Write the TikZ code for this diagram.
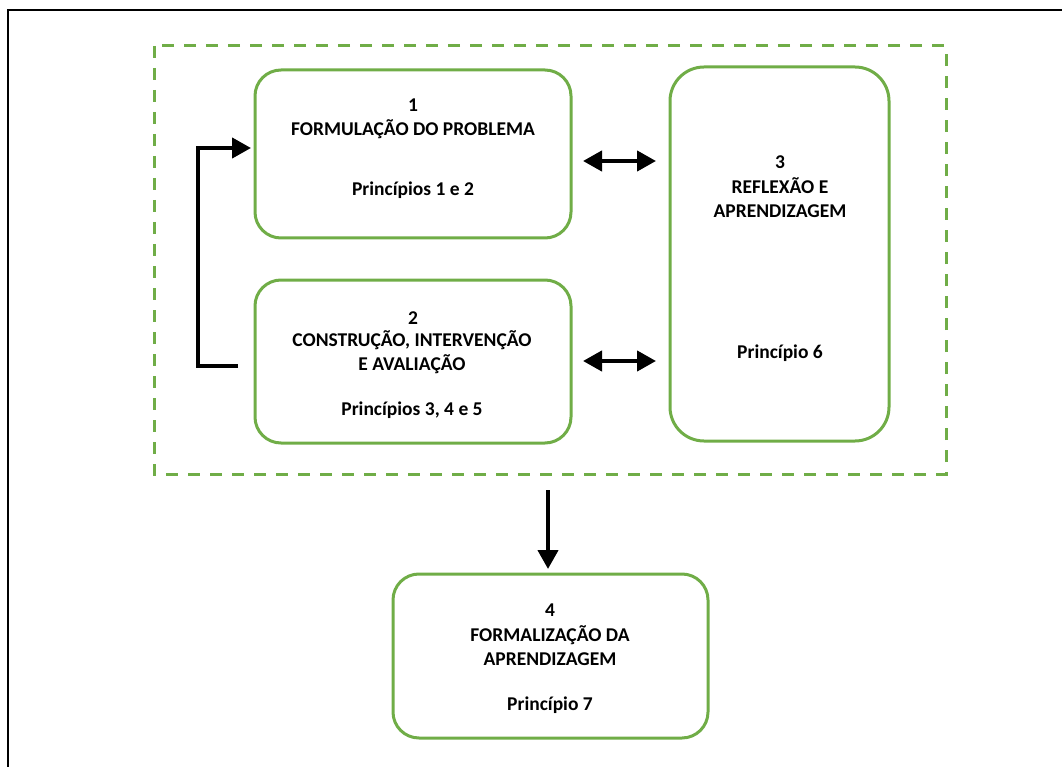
\documentclass[tikz,border=0pt]{standalone}
\usepackage{fontspec}
\setmainfont{Carlito}
\usetikzlibrary{arrows.meta}
\definecolor{ogreen}{HTML}{70AD47}
\tikzset{
  box/.style={draw=ogreen, line width=3pt, rounded corners=26pt},
  txt/.style={font=\bfseries\fontsize{19.5}{24}\selectfont, align=center, inner sep=0pt, anchor=center},
  arr/.style={line width=4.2pt, -{Triangle[length=19pt,width=20pt]}},
  darr/.style={line width=4.2pt, {Triangle[length=19pt,width=20pt]}-{Triangle[length=19pt,width=20pt]}}
}
\begin{document}
\begin{tikzpicture}[x=1pt,y=-1pt]
\useasboundingbox (0,0) rectangle (1062,767);
% outer frame (partly visible)
\draw[line width=2pt] (8,767) -- (8,10) -- (1062,10);
% dashed group
\draw[draw=ogreen, line width=3pt, dash pattern=on 12pt off 10pt] (154,46) rectangle (946,474);
% boxes
\draw[box] (255,70) rectangle (571,238);
\draw[box] (255,280) rectangle (571,443);
\draw[box, rounded corners=34pt] (670,67) rectangle (889,441);
\draw[box] (393,574) rectangle (708,738);
\node[inner sep=0pt] (b1) at (413,154) {};
\node[inner sep=0pt] (b2) at (413,361) {};
\node[inner sep=0pt] (b3) at (780,254) {};
\node[inner sep=0pt] (b4) at (550,656) {};
% texts
\node[txt] (t1a) at (413,105) {1};
\node[txt] (t1b) at (413,129) {FORMULAÇÃO DO PROBLEMA};
\node[txt] (t1c) at (413,190) {Princípios 1 e 2};
\node[txt] (t2a) at (413,318) {2};
\node[txt] (t2b) at (412,352) {CONSTRUÇÃO, INTERVENÇÃO\\E AVALIAÇÃO};
\node[txt] (t2c) at (412,410) {Princípios 3, 4 e 5};
\node[txt] (t3a) at (780,162) {3};
\node[txt] (t3b) at (780,198) {REFLEXÃO E\\APRENDIZAGEM};
\node[txt] (t3c) at (780,353) {Princípio 6};
\node[txt] (t4a) at (550,610) {4};
\node[txt] (t4b) at (550,646) {FORMALIZAÇÃO DA\\APRENDIZAGEM};
\node[txt] (t4c) at (550,705) {Princípio 7};
% connectors
\coordinate (fbs) at (238,366);
\coordinate (fbe) at (251,148);
\draw[arr] (fbs) -- (198,366) -- (198,148) -- (fbe);
\coordinate (d1a) at (583,161);
\coordinate (d1b) at (656,161);
\coordinate (d2a) at (583,361);
\coordinate (d2b) at (656,361);
\draw[darr] (d1a) -- (d1b);
\draw[darr] (d2a) -- (d2b);
\coordinate (dn1) at (548,490);
\coordinate (dn2) at (548,569);
\draw[arr] (dn1) -- (dn2);
\end{tikzpicture}
\end{document}
